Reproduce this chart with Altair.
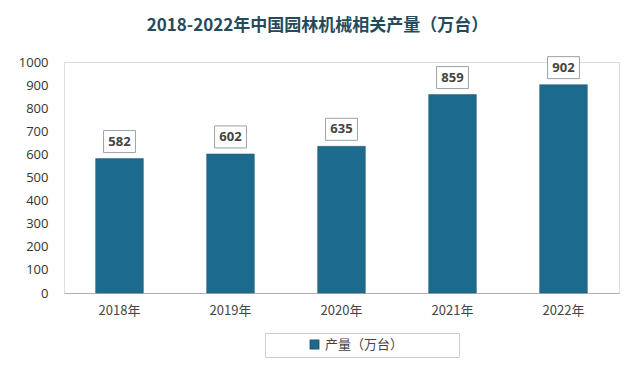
import altair as alt
import pandas as pd

years = ["2018年", "2019年", "2020年", "2021年", "2022年"]
values = [582, 602, 635, 859, 902]
series_name = "产量（万台）"
y_ticks = [0, 100, 200, 300, 400, 500, 600, 700, 800, 900, 1000]

df = pd.DataFrame({"year": years, "value": values, "series": [series_name] * len(years)})

x = alt.X("year:N", sort=years, title=None,
          scale=alt.Scale(paddingInner=0.57, paddingOuter=0.285),
          axis=alt.Axis(labelAngle=0, labelFont="Noto Sans CJK SC", labelFontSize=13,
                        labelColor="#444", labelPadding=11, ticks=False,
                        domainColor="#b0b0b0", domainWidth=1))
y = alt.Y("value:Q", title=None,
          scale=alt.Scale(domain=[0, 1000], nice=False),
          axis=alt.Axis(values=y_ticks, tickCount=20, grid=False, domain=False, ticks=False,
                        labelOverlap=False, format="d",
                        labelFont="Open Sans", labelFontSize=13, labelColor="#333",
                        labelPadding=16))

pad = "\u2800" * 5
bars = alt.Chart(df).mark_bar(color="#1c6b8e", stroke="#2a5a70", strokeWidth=0.5).encode(
    x=x, y=y,
    color=alt.Color("series:N", scale=alt.Scale(range=["#1c6b8e"]),
                    legend=alt.Legend(title=None, orient="none", legendX=201, legendY=271,
                                      direction="horizontal", symbolType="square",
                                      symbolSize=70, labelFont="Noto Sans CJK SC",
                                      labelFontSize=13, labelColor="#444", labelLimit=400,
                                      strokeColor="#cfcfcf", padding=5,
                                      symbolOffset=38, fillColor="white",
                                      labelExpr="datum.label + '" + pad + "'"))
)

boxes = alt.Chart(df).mark_point(
    shape="M-1.45,-1L1.45,-1L1.45,1L-1.45,1Z", size=484, filled=True,
    fill="white", stroke="#9aa3a8", strokeWidth=1, opacity=1
).encode(x=x, y=y, yOffset=alt.value(-17))

labels = alt.Chart(df).mark_text(
    font="Open Sans", fontSize=13, fontWeight="bold", color="#444", dy=-17
).encode(x=x, y=y, text="value:Q")

chart = alt.layer(bars, boxes, labels).properties(
    width=555, height=231,
    autosize=alt.AutoSizeParams(type="none"),
    padding={"left": 56, "top": 54, "right": 13, "bottom": 77},
    title=alt.Title("2018-2022年中国园林机械相关产量（万台）", font="Noto Sans CJK SC",
                    fontSize=17, fontWeight="bold", color="#234b5c",
                    anchor="middle", dx=-24, offset=20)
).configure_view(fill="#f3f3f3", stroke=None).configure(background="white")

chart.save("out.html", embed_options={"renderer": "svg", "actions": False})
